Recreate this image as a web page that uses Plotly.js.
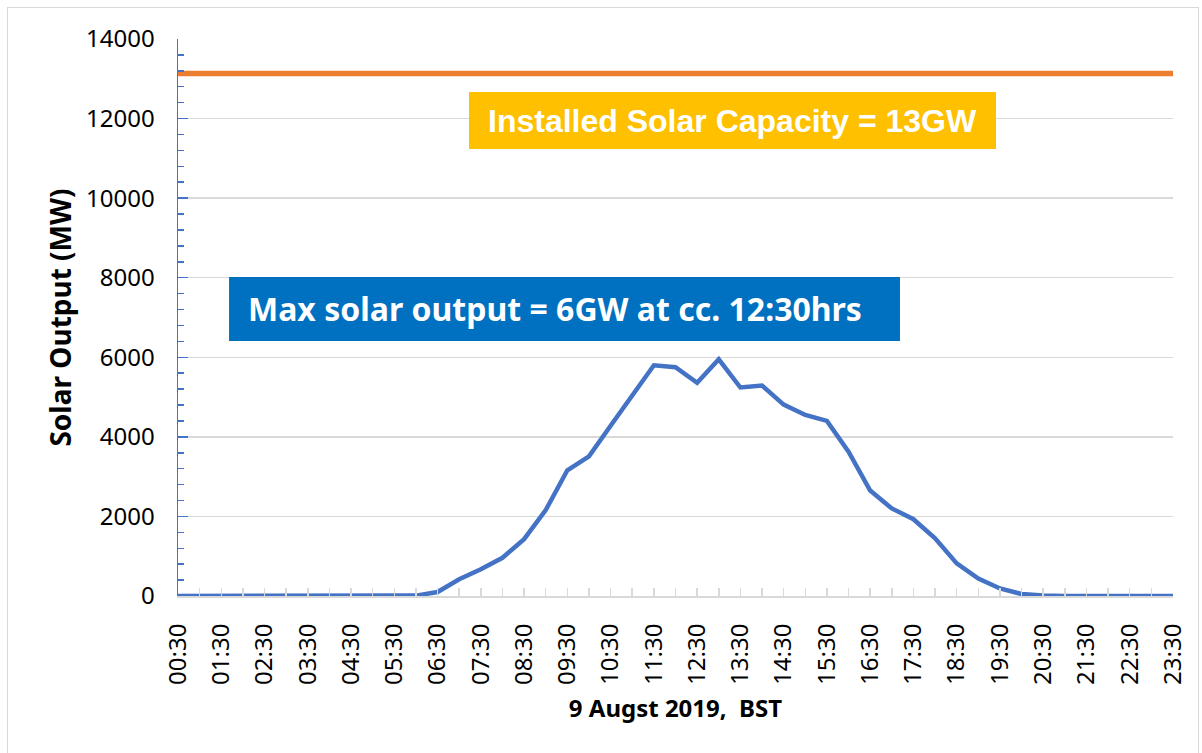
<!DOCTYPE html>
<html>
<head>
<meta charset="utf-8">
<script src="https://cdn.plot.ly/plotly-3.0.1.min.js"></script>
<style>
  html, body { margin: 0; padding: 0; background: #fff; }
  #wrap { position: relative; width: 1202px; height: 753px; overflow: hidden; }
  #chart { width: 1202px; height: 753px; }
  #frame { position: absolute; left: 7px; top: 7px; width: 1192px; height: 760px;
           border: 1.5px solid #D9D9D9; box-sizing: border-box; pointer-events: none; }
</style>
</head>
<body>
<div id="wrap">
  <div id="chart"></div>
  <div id="frame"></div>
</div>
<script>
const times = ["00:30","01:00","01:30","02:00","02:30","03:00","03:30","04:00","04:30","05:00",
  "05:30","06:00","06:30","07:00","07:30","08:00","08:30","09:00","09:30","10:00",
  "10:30","11:00","11:30","12:00","12:30","13:00","13:30","14:00","14:30","15:00",
  "15:30","16:00","16:30","17:00","17:30","18:00","18:30","19:00","19:30","20:00",
  "20:30","21:00","21:30","22:00","22:30","23:00","23:30"];

const solarOutput = [0,0,0,0,0,0,0,0,0,0,
  0,10,100,420,670,960,1430,2160,3160,3510,
  4280,5050,5800,5750,5360,5950,5240,5290,4810,4550,
  4400,3630,2650,2200,1930,1450,820,440,190,50,
  10,0,0,0,0,0,0];

const installedCapacity = [13130,13130,13130,13130,13130,13130,13130,13130,13130,13130,
  13130,13130,13130,13130,13130,13130,13130,13130,13130,13130,
  13130,13130,13130,13130,13130,13130,13130,13130,13130,13130,
  13130,13130,13130,13130,13130,13130,13130,13130,13130,13130,
  13130,13130,13130,13130,13130,13130,13130];

const xTickLabels = ["00:30","","01:30","","02:30","","03:30","","04:30","","05:30","","06:30","","07:30","",
  "08:30","","09:30","","10:30","","11:30","","12:30","","13:30","","14:30","","15:30","",
  "16:30","","17:30","","18:30","","19:30","","20:30","","21:30","","22:30","","23:30"];

const yTickVals = [0,2000,4000,6000,8000,10000,12000,14000];
const yTickText = ["0","2000","4000","6000","8000","10000","12000","14000"];

const traces = [
  {
    x: times, y: installedCapacity, type: 'scatter', mode: 'lines',
    name: 'Installed Solar Capacity',
    line: { color: '#ED7D31', width: 5.5 }, hoverinfo: 'skip'
  },
  {
    x: times, y: solarOutput, type: 'scatter', mode: 'lines',
    name: 'Solar Output',
    line: { color: '#4472C4', width: 4.5 }
  }
];

const FONT = '"Noto Sans", "Open Sans", sans-serif';
const tickFont = { family: FONT, size: 24, color: '#000000' };

const layout = {
  width: 1202, height: 753,
  margin: { l: 178, r: 29, t: 39, b: 157, pad: 0 },
  paper_bgcolor: '#ffffff', plot_bgcolor: '#ffffff',
  showlegend: false,
  xaxis: {
    type: 'category',
    range: [0, times.length - 1],
    tickmode: 'array', tickvals: times, ticktext: xTickLabels,
    tickangle: -90,
    ticks: 'inside', ticklen: 8, tickwidth: 1.5, tickcolor: '#D9D9D9',
    showline: true, linecolor: '#D9D9D9', linewidth: 2,
    showgrid: false, zeroline: false,
    tickfont: tickFont,
    ticklabelstandoff: 16,
    title: { text: '<b>9 Augst 2019,\u00a0\u00a0BST</b>', font: { family: FONT, size: 24, color: '#000' }, standoff: 16 },
    fixedrange: true
  },
  yaxis: {
    range: [0, 14000],
    tickmode: 'array', tickvals: yTickVals, ticktext: yTickText,
    ticks: 'inside', ticklen: 10, tickwidth: 1.5, tickcolor: '#4472C4',
    minor: { dtick: 400, ticks: 'inside', ticklen: 6, tickwidth: 1.5, tickcolor: '#4472C4', showgrid: false },
    showline: true, linecolor: '#4472C4', linewidth: 1.5,
    showgrid: true, gridcolor: '#D9D9D9', gridwidth: 1.5,
    zeroline: false,
    tickfont: tickFont,
    ticklabelstandoff: 17,
    title: { text: '<b>Solar Output (MW)</b>', font: { family: FONT, size: 28, color: '#000' }, standoff: 6 },
    fixedrange: true
  },
  shapes: [
    {
      type: 'rect', xref: 'paper', yref: 'paper', layer: 'above',
      x0: 0.0513, x1: 0.7256, y0: 0.4578, y1: 0.5727,
      fillcolor: '#0070C0', line: { width: 0 }
    }
  ],
  annotations: [
    {
      xref: 'paper', yref: 'paper', x: 0.5573, y: 0.8528, xanchor: 'center', yanchor: 'middle',
      text: '<b>Installed Solar Capacity = 13GW</b>', showarrow: false,
      font: { family: '"Liberation Sans", Arial, sans-serif', size: 32, color: '#ffffff' },
      bgcolor: '#FFC000', width: 527, height: 57, borderpad: 0, borderwidth: 0
    },
    {
      xref: 'paper', yref: 'paper', x: 0.0704, y: 0.5153, xanchor: 'left', yanchor: 'middle',
      text: '<b>Max solar output = 6GW at cc. 12:30hrs</b>', showarrow: false,
      font: { family: FONT, size: 32, color: '#ffffff' },
      borderpad: 0, borderwidth: 0
    }
  ]
};

Plotly.newPlot('chart', traces, layout, { displayModeBar: false, staticPlot: true });
</script>
</body>
</html>
